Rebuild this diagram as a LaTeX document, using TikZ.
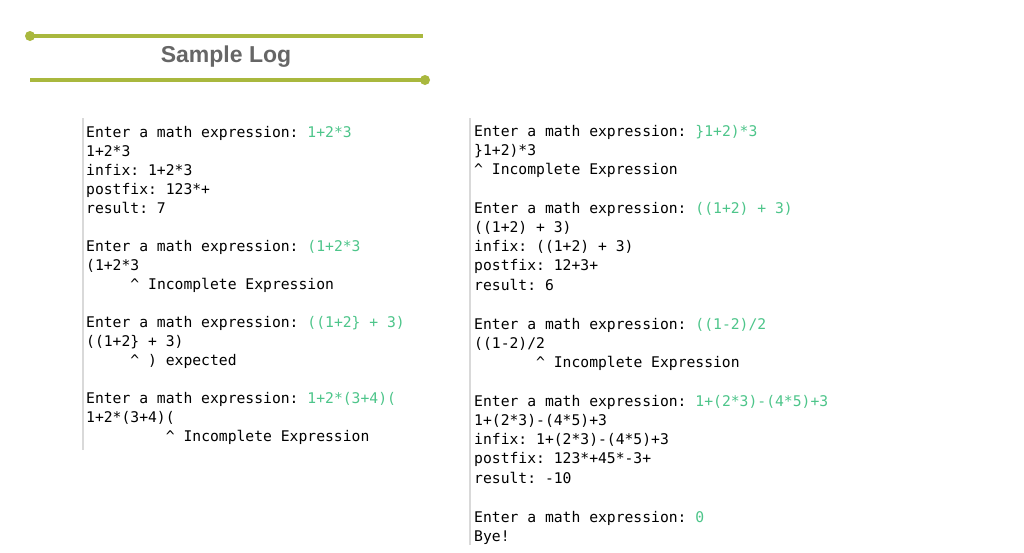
\documentclass[tikz,border=0pt]{standalone}
\usepackage{fontspec}
\setmainfont{Liberation Sans}
\setmonofont{DejaVu Sans Mono}
\definecolor{olive}{HTML}{A9B83E}
\definecolor{grn}{HTML}{4DC58A}
\definecolor{hd}{HTML}{666666}
\newcommand{\gx}[1]{\textcolor{grn}{#1}}
\newcommand{\ind}[1]{\phantom{#1}}
\begin{document}
\begin{tikzpicture}[x=1pt,y=-1pt,
  ln/.style={anchor=west,inner sep=0pt,text height=8pt,text depth=3pt,yshift=-3pt,font=\fontsize{14.7}{16}\ttfamily},
  bar/.style={line width=3.5pt,olive},
  dotc/.style={circle,fill=olive,inner sep=0pt,minimum size=10pt}]
\useasboundingbox[fill=white] (0,0) rectangle (1024,552);
\node[dotc] (d1) at (30,36) {};
\coordinate (e1) at (423,36);
\draw[bar] (d1.center) -- (e1);
\node[font=\fontsize{23}{25}\selectfont\bfseries,text=hd] (title) at (226,57) {Sample Log};
\node[dotc] (d2) at (425,80) {};
\coordinate (e2) at (30,80);
\draw[bar] (e2) -- (d2.center);
\draw[black!15,line width=2pt] (83,118) -- (83,450);
\draw[black!15,line width=2pt] (470,118) -- (470,545);
\foreach \y/\t [count=\i] in {
 132/{Enter a math expression: \gx{1+2*3}},
 151/{1+2*3},
 170/{infix: 1+2*3},
 189/{postfix: 123*+},
 208/{result: 7},
 246/{Enter a math expression: \gx{(1+2*3}},
 265/{(1+2*3},
 284/{\ind{00000}\textasciicircum{} Incomplete Expression},
 322/{Enter a math expression: \gx{((1+2\} + 3)}},
 341/{((1+2\} + 3)},
 360/{\ind{00000}\textasciicircum{} ) expected},
 398/{Enter a math expression: \gx{1+2*(3+4)(}},
 417/{1+2*(3+4)(},
 436/{\ind{000000000}\textasciicircum{} Incomplete Expression}}
 \node[ln] (l\i) at (86,\y) {\t};
\foreach \y/\t [count=\i] in {
 131/{Enter a math expression: \gx{\}1+2)*3}},
 150/{\}1+2)*3},
 169/{\textasciicircum{} Incomplete Expression},
 208/{Enter a math expression: \gx{((1+2) + 3)}},
 227/{((1+2) + 3)},
 246/{infix: ((1+2) + 3)},
 265/{postfix: 12+3+},
 285/{result: 6},
 324/{Enter a math expression: \gx{((1-2)/2}},
 343/{((1-2)/2},
 362/{\ind{0000000}\textasciicircum{} Incomplete Expression},
 401/{Enter a math expression: \gx{1+(2*3)-(4*5)+3}},
 420/{1+(2*3)-(4*5)+3},
 439/{infix: 1+(2*3)-(4*5)+3},
 458/{postfix: 123*+45*-3+},
 478/{result: -10},
 517/{Enter a math expression: \gx{0}},
 536/{Bye!}}
 \node[ln] (r\i) at (474,\y) {\t};
\end{tikzpicture}
\end{document}
